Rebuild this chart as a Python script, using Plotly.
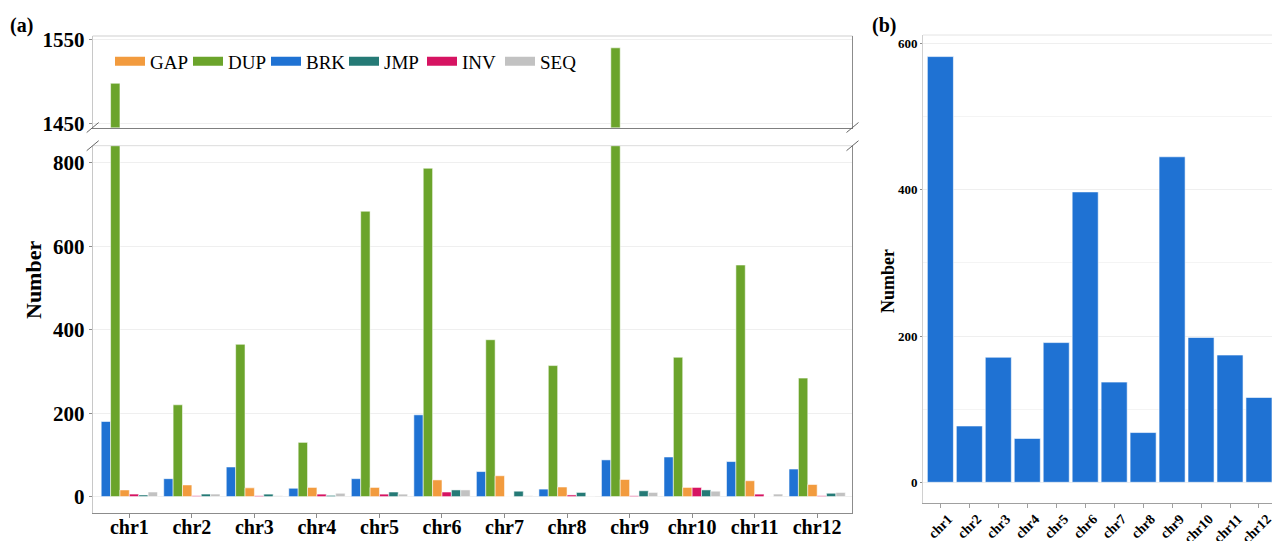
import plotly.graph_objects as go

# ---------------- data ----------------
chromosomes = ["chr1", "chr2", "chr3", "chr4", "chr5", "chr6",
               "chr7", "chr8", "chr9", "chr10", "chr11", "chr12"]
brk = [180, 43, 71, 20, 43, 196, 60, 18, 88, 95, 84, 66]
dup = [1498, 220, 365, 130, 684, 787, 376, 314, 1540, 334, 555, 284]
gap = [16, 28, 21, 22, 22, 40, 50, 23, 41, 22, 38, 29]
inv = [6, 2, 2, 6, 6, 11, 0, 4, 2, 22, 6, 2]
jmp = [4, 6, 6, 3, 11, 16, 13, 10, 14, 16, 0, 8]
seq = [11, 6, 2, 8, 6, 16, 2, 1, 10, 13, 6, 10]
panel_b_values = [582, 77, 171, 60, 191, 397, 137, 68, 445, 198, 174, 116]

lower_ticks = [0, 200, 400, 600, 800]
upper_ticks = [1450, 1550]
b_ticks = [0, 200, 400, 600]

# bar order inside group / legend order
bar_series = [("BRK", brk), ("DUP", dup), ("GAP", gap),
              ("INV", inv), ("JMP", jmp), ("SEQ", seq)]
legend_order = ["GAP", "DUP", "BRK", "JMP", "INV", "SEQ"]
colors = {"GAP": "#F29B3E", "DUP": "#6BA42B", "BRK": "#1F72D3",
          "JMP": "#257A76", "INV": "#D61462", "SEQ": "#C2C2C2"}

# ---------------- geometry helpers ----------------
W, H = 1272, 541
def fx(x):
    return x / W
def fy(y):
    return 1 - y / H

A_X = (92.7, 852.5)
A_LO = (145.7, 513.3)
A_HI = (36.0, 127.5)
B_X = (923.0, 1272.0)
B_Y = (35.0, 503.3)

FONT = "Liberation Serif"
edge = dict(color="rgba(255,255,255,0.55)", width=1)

fig = go.Figure()

for name, vals in bar_series:
    fig.add_trace(go.Bar(x=chromosomes, y=vals, name=name, marker_color=colors[name],
                         marker_line=edge, showlegend=False, xaxis="x", yaxis="y"))
for name, vals in bar_series:
    fig.add_trace(go.Bar(x=chromosomes, y=vals, name=name, marker_color=colors[name],
                         marker_line=edge, showlegend=False, xaxis="x2", yaxis="y2"))
# legend-only entries (wide swatches)
for name in legend_order:
    fig.add_trace(go.Scatter(x=[None], y=[None], mode="lines", name=name,
                             line=dict(color=colors[name], width=9),
                             xaxis="x2", yaxis="y2"))

fig.add_trace(go.Bar(x=chromosomes, y=panel_b_values, marker_color=colors["BRK"],
                     marker_line=dict(color="rgba(255,255,255,0.6)", width=1),
                     showlegend=False, xaxis="x3", yaxis="y3"))

tickfont_a = dict(family=FONT, size=21, color="black", weight="bold")
xtickfont_a = dict(family=FONT, size=20, color="black", weight="bold")
tickfont_b = dict(family=FONT, size=13, color="black", weight="bold")
xtickfont_b = dict(family=FONT, size=14, color="black", weight="bold")

grid = "#efefef"

fig.update_layout(
    template="none",
    width=W, height=H,
    margin=dict(l=0, r=0, t=0, b=0, autoexpand=False),
    paper_bgcolor="white", plot_bgcolor="white",
    barmode="group", bargap=0.1, bargroupgap=0,
    showlegend=True,
    legend=dict(orientation="h", x=fx(110), y=fy(42.5), xanchor="left", yanchor="top",
                font=dict(family=FONT, size=19, color="black"),
                bgcolor="rgba(0,0,0,0)", itemwidth=30, tracegroupgap=0,
                entrywidth=33),
    xaxis=dict(domain=[fx(A_X[0]), fx(A_X[1])], anchor="y", type="category",
               range=[-0.586, 11.565], tickfont=xtickfont_a, showline=True,
               linecolor="#8c8c8c", ticks="outside", ticklen=4, tickcolor="#8c8c8c",
               ticklabelstandoff=-8,
               showgrid=False, zeroline=False, automargin=False),
    yaxis=dict(domain=[fy(A_LO[1]), fy(A_LO[0])], anchor="x", range=[-40, 841],
               tickvals=lower_ticks, tickfont=tickfont_a, showline=True,
               linecolor="#c8c8c8", ticks="outside", ticklen=3, tickcolor="#8c8c8c",
               showgrid=True, gridcolor=grid, zeroline=False, automargin=False),
    xaxis2=dict(domain=[fx(A_X[0]), fx(A_X[1])], anchor="y2", type="category",
                range=[-0.586, 11.565], showticklabels=False, showline=True,
                linecolor="#7f7f7f", ticks="", showgrid=False, zeroline=False,
                automargin=False),
    yaxis2=dict(domain=[fy(A_HI[1]), fy(A_HI[0])], anchor="x2", range=[1445.6, 1554],
                tickvals=upper_ticks, tickfont=tickfont_a, showline=True,
                linecolor="#c8c8c8", ticks="outside", ticklen=3, tickcolor="#8c8c8c",
                showgrid=True, gridcolor=grid, zeroline=False, automargin=False),
    xaxis3=dict(domain=[fx(B_X[0]), fx(B_X[1])], anchor="y3", type="category",
                range=[-0.6, 11.45], tickfont=xtickfont_b, tickangle=-45,
                ticklabelshift=8, ticklabelstandoff=-3,
                showline=True, linecolor="#a0a0a0", ticks="outside", ticklen=4,
                tickcolor="#a0a0a0", showgrid=False, zeroline=False, automargin=False),
    yaxis3=dict(domain=[fy(B_Y[1]), fy(B_Y[0])], anchor="x3", range=[-28.7, 611.5],
                tickvals=b_ticks, tickfont=tickfont_b, showline=True,
                linecolor="#d0d0d0", ticks="outside", ticklen=2, tickcolor="#8c8c8c",
                showgrid=True, gridcolor=grid, zeroline=False, automargin=False,
                minor=dict(dtick=100, showgrid=True, gridcolor="#f4f4f4")),
)

# frames
shapes = []
shapes.append(dict(type="line", xref="x2 domain", yref="y2 domain", x0=0, x1=1, y0=1, y1=1,
                   line=dict(color="#cfcfcf", width=1)))
shapes.append(dict(type="line", xref="x2 domain", yref="y2 domain", x0=1, x1=1, y0=0, y1=1,
                   line=dict(color="#8c8c8c", width=1)))
shapes.append(dict(type="line", xref="x domain", yref="y domain", x0=0, x1=1, y0=1, y1=1,
                   line=dict(color="#dcdcdc", width=1)))
shapes.append(dict(type="line", xref="x domain", yref="y domain", x0=1, x1=1, y0=0, y1=1,
                   line=dict(color="#8c8c8c", width=1)))
shapes.append(dict(type="line", xref="x3 domain", yref="y3 domain", x0=0, x1=1, y0=1, y1=1,
                   line=dict(color="#e4e4e4", width=1)))
# axis break marks at the panel corners
for cx, cy in [(A_X[0], A_HI[1]), (A_X[0], A_LO[0]), (A_X[1], A_HI[1]), (A_X[1], A_LO[0])]:
    shapes.append(dict(type="line", xref="paper", yref="paper",
                       x0=fx(cx - 6), y0=fy(cy + 5), x1=fx(cx + 6), y1=fy(cy - 5),
                       line=dict(color="#666666", width=1)))
fig.update_layout(shapes=shapes)

ann_font = dict(family=FONT, size=20, color="black", weight="bold")
fig.update_layout(annotations=[
    dict(text="(a)", xref="paper", yref="paper", x=fx(8), y=fy(25), xanchor="left",
         yanchor="middle", showarrow=False, font=ann_font),
    dict(text="(b)", xref="paper", yref="paper", x=fx(870), y=fy(25), xanchor="left",
         yanchor="middle", showarrow=False, font=ann_font),
    dict(text="Number", xref="paper", yref="paper", x=fx(33), y=fy(280), textangle=-90,
         xanchor="center", yanchor="middle", showarrow=False,
         font=dict(family=FONT, size=22, color="black", weight="bold")),
    dict(text="Number", xref="paper", yref="paper", x=fx(888), y=fy(281), textangle=-90,
         xanchor="center", yanchor="middle", showarrow=False,
         font=dict(family=FONT, size=18, color="black", weight="bold")),
])

fig.write_html("out.html")
